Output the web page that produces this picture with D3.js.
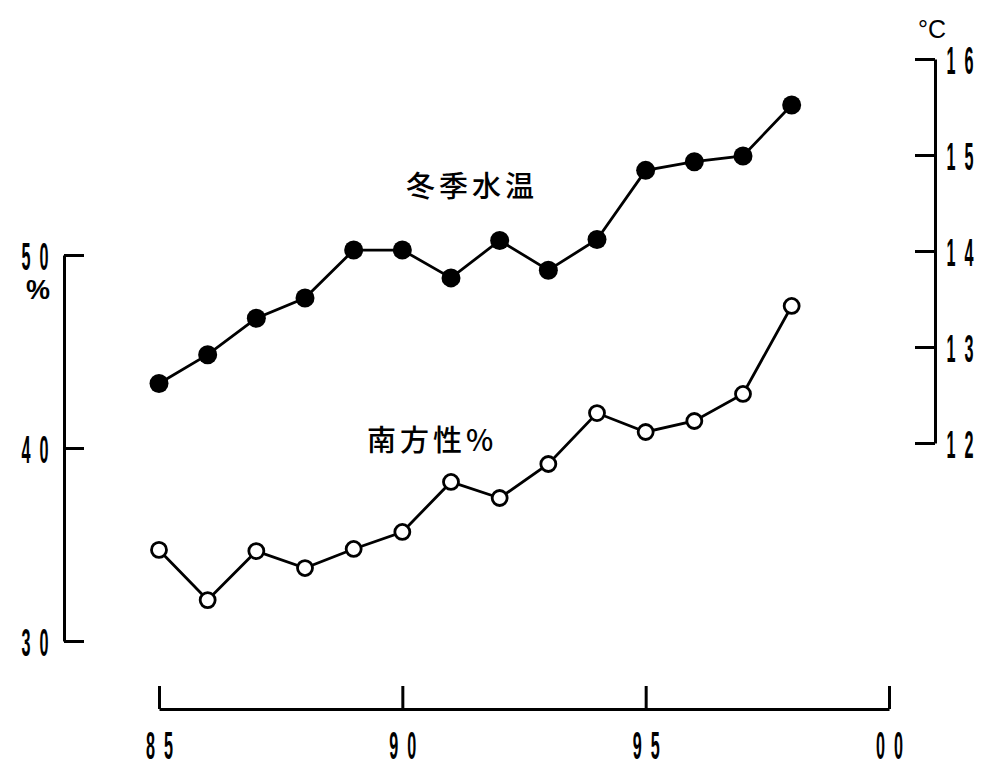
<!DOCTYPE html>
<html><head><meta charset="utf-8">
<script src="https://cdn.jsdelivr.net/npm/d3@7"></script>
<style>
html,body{margin:0;padding:0;background:#fff;}
svg{display:block;}
.tk text{font-family:"Liberation Sans","DejaVu Sans",sans-serif;font-size:36px;font-weight:bold;fill:#000;letter-spacing:20px;}
.lbl{font-family:"Noto Sans CJK JP",sans-serif;font-size:29px;font-weight:500;fill:#000;}
</style></head>
<body>
<script>
// Data
const years = [85,86,87,88,89,90,91,92,93,94,95,96,97,98];
const winterWaterTemp = [12.62,12.92,13.30,13.51,14.01,14.01,13.72,14.11,13.80,14.12,14.84,14.93,14.99,15.52]; // °C
const southernPercent = [34.72,32.12,34.66,33.78,34.77,35.65,38.24,37.41,39.17,41.81,40.83,41.40,42.80,47.36]; // %
const xTicks = [85,90,95,100];
const xTickLabels = ["85","90","95","00"];
const leftTicks = [30,40,50];
const rightTicks = [12,13,14,15,16];

const W=989,H=773;
const svg=d3.select("body").append("svg").attr("width",W).attr("height",H);

const x=d3.scaleLinear().domain([85,100]).range([159,889]);
const yL=d3.scaleLinear().domain([30,50]).range([641,255]);
const yR=d3.scaleLinear().domain([12,16]).range([443,59]);

const SX=0.45, SY=1.1;
function styleAxis(g){
  g.selectAll("path.domain").attr("stroke","#000").attr("stroke-width",3);
  g.selectAll(".tick line").attr("stroke","#000").attr("stroke-width",3);
  g.selectAll("text").attr("font-family",null).attr("font-size",null).attr("fill","#000");
}
// place condensed labels: cx, cy are center in axis-group coords
function placeLabels(g, fx, fy, labels){
  g.selectAll(".tick text").each(function(d,i){
    const t=d3.select(this);
    const [cx,cy]=[fx(d),fy(d)];
    t.attr("x",null).attr("y",null).attr("dy",null)
     .attr("text-anchor","start")
     .text(labels ? labels[i] : String(d));
    // width: 2 digits (each ~20px) + one letter gap (20px) before scaling
    const w = 2*20 + 20;
    t.attr("transform",`translate(${cx - w*SX/2},${cy + 13*SY}) scale(${SX},${SY})`);
  });
}

// bottom axis
const gx=svg.append("g").attr("class","tk").attr("transform","translate(0,709)")
  .call(d3.axisBottom(x).tickValues(xTicks).tickFormat((d,i)=>xTickLabels[i]).tickSizeInner(-23).tickSizeOuter(0));
styleAxis(gx);
placeLabels(gx, d=>0, d=>36, xTickLabels);

// left axis
const gl=svg.append("g").attr("class","tk").attr("transform","translate(64,0)")
  .call(d3.axisLeft(yL).tickValues(leftTicks).tickSizeInner(-20).tickSizeOuter(0));
styleAxis(gl);
placeLabels(gl, d=>-29, d=>0, null);

svg.append("text").attr("x",38).attr("y",299).attr("text-anchor","middle")
  .attr("font-family","Liberation Sans, sans-serif").attr("font-size",27).attr("font-weight","bold").text("%");

// right axis
const gr=svg.append("g").attr("class","tk").attr("transform","translate(935,0)")
  .call(d3.axisRight(yR).tickValues(rightTicks).tickSizeInner(-20).tickSizeOuter(0));
styleAxis(gr);
placeLabels(gr, d=>25, d=>0, null);

svg.append("text").attr("x",932).attr("y",38).attr("text-anchor","middle")
  .attr("font-family","Liberation Sans, sans-serif").attr("font-size",25).text("°C");

// lines
const lineT=d3.line().x((d,i)=>x(years[i])).y(d=>yR(d));
const lineP=d3.line().x((d,i)=>x(years[i])).y(d=>yL(d));
svg.append("path").datum(winterWaterTemp).attr("d",lineT).attr("fill","none").attr("stroke","#000").attr("stroke-width",2.8);
svg.append("path").datum(southernPercent).attr("d",lineP).attr("fill","none").attr("stroke","#000").attr("stroke-width",2.8);

svg.selectAll("circle.t").data(winterWaterTemp).enter().append("circle")
  .attr("cx",(d,i)=>x(years[i])).attr("cy",d=>yR(d)).attr("r",9.5).attr("fill","#000");
svg.selectAll("circle.p").data(southernPercent).enter().append("circle")
  .attr("cx",(d,i)=>x(years[i])).attr("cy",d=>yL(d)).attr("r",7.5).attr("fill","#fff").attr("stroke","#000").attr("stroke-width",2.8);

// labels
svg.append("text").attr("class","lbl").attr("x",472).attr("y",197).attr("text-anchor","middle")
  .attr("letter-spacing","4").text("冬季水温");
svg.append("text").attr("class","lbl").attr("x",432).attr("y",451).attr("text-anchor","middle")
  .attr("letter-spacing","4").text("南方性%");
</script>
</body></html>
